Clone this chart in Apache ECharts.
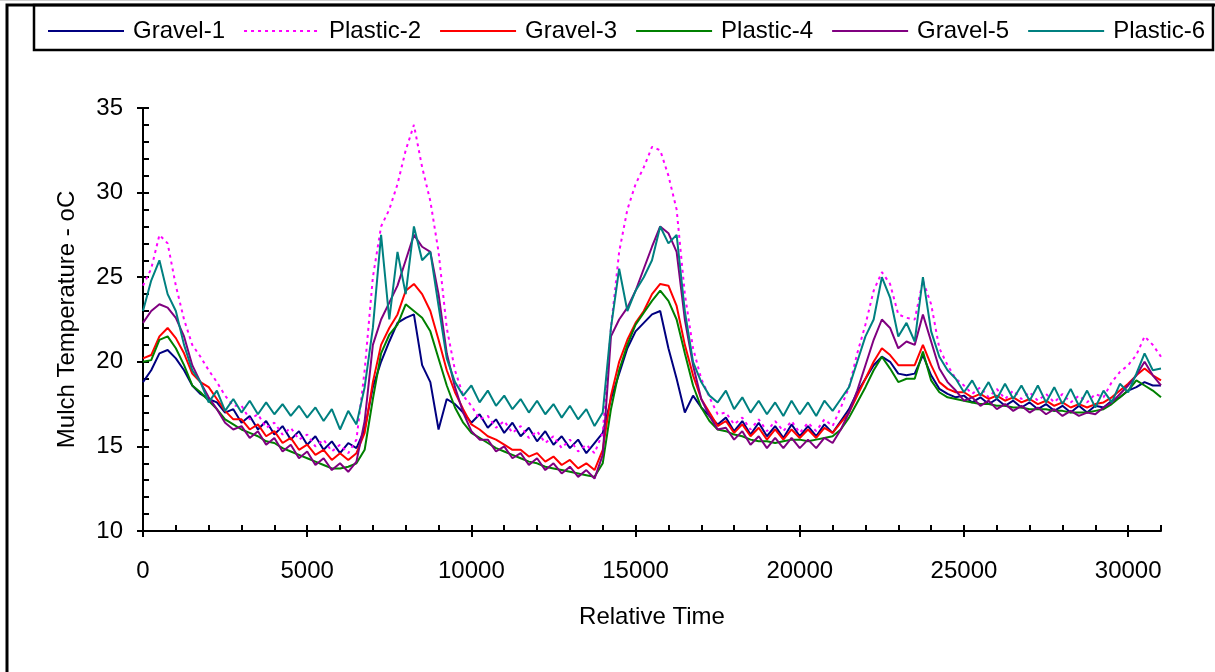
<!DOCTYPE html>
<html>
<head>
<meta charset="utf-8">
<script src="https://cdn.jsdelivr.net/npm/echarts@6/dist/echarts.min.js"></script>
<style>
html,body{margin:0;padding:0;background:#fff;}
#chart{width:1215px;height:672px;}
</style>
</head>
<body>
<div id="chart"></div>
<script>
// Sample spacing along "Relative Time" (one value every 250 units, 0..31000)
const timeStep = 250;
const seriesNames = ['Gravel-1','Plastic-2','Gravel-3','Plastic-4','Gravel-5','Plastic-6'];
const xTicks = {min: 0, max: 31000, interval: 5000};
const yTicks = {min: 10, max: 35, interval: 5};

const gravel1 = [18.8,19.5,20.5,20.7,20.2,19.5,18.6,18.1,17.8,17.6,17.0,17.2,16.4,16.8,16.0,16.5,15.7,16.2,15.4,15.9,15.1,15.6,14.8,15.3,14.6,15.2,14.9,16.0,18.5,20.0,21.2,22.3,22.6,22.8,19.8,18.8,16.0,17.8,17.5,17.0,16.4,16.9,16.1,16.6,15.8,16.4,15.6,16.1,15.3,15.9,15.1,15.6,14.9,15.4,14.6,15.2,15.8,17.8,19.3,20.8,21.8,22.3,22.8,23.0,20.8,19.0,17.0,18.0,17.3,16.8,16.3,16.7,15.9,16.5,15.7,16.4,15.6,16.2,15.5,16.3,15.6,16.2,15.6,16.3,15.8,16.5,17.2,18.2,19.0,19.8,20.3,20.0,19.3,19.2,19.3,20.4,19.2,18.4,18.1,17.9,18.0,17.6,17.9,17.5,17.8,17.4,17.7,17.3,17.6,17.2,17.5,17.1,17.4,17.0,17.4,17.0,17.4,17.3,17.7,17.9,18.3,18.5,18.8,18.6,18.6];
const plastic2 = [24.5,25.5,27.5,27.0,24.5,22.5,21.0,20.3,19.5,18.8,18.0,17.4,17.4,16.6,16.9,16.1,16.4,15.7,16.1,15.4,15.7,15.0,15.4,14.7,15.1,14.6,15.4,19.5,25.0,28.0,29.0,30.5,32.5,34.0,31.5,29.5,26.5,22.0,19.5,18.0,17.4,16.6,16.8,16.1,16.5,15.8,16.2,15.5,15.9,15.2,15.6,14.9,15.4,14.7,15.1,14.6,15.8,22.0,26.5,29.0,30.5,31.5,32.7,32.5,31.0,29.0,24.0,20.8,19.0,17.9,16.9,17.0,16.3,16.7,16.0,16.6,15.9,16.5,15.9,16.5,15.8,16.4,15.9,16.6,16.2,17.3,18.5,20.5,22.2,24.2,25.3,24.6,22.8,22.6,22.5,24.8,23.4,20.8,19.8,19.0,18.6,18.1,18.5,17.9,18.4,17.8,18.3,17.8,18.2,17.7,18.1,17.6,18.1,17.6,18.0,17.6,18.1,17.9,18.8,19.4,19.8,20.4,21.5,21.0,20.3];
const gravel3 = [20.2,20.4,21.5,22.0,21.4,20.5,19.3,18.8,18.5,17.8,17.1,16.6,16.6,16.0,16.3,15.6,15.9,15.2,15.5,14.8,15.1,14.5,14.8,14.2,14.6,14.2,14.6,15.8,18.8,21.0,22.0,22.8,24.2,24.6,24.0,23.0,21.3,19.5,18.2,17.2,16.3,16.0,15.6,15.4,15.1,14.8,14.8,14.4,14.6,14.1,14.4,13.9,14.2,13.7,14.0,13.6,14.8,18.0,20.0,21.3,22.3,23.0,24.0,24.6,24.5,23.3,21.0,19.2,17.8,17.0,16.2,16.5,15.8,16.3,15.6,16.1,15.4,16.0,15.4,16.0,15.5,16.0,15.5,16.1,15.8,16.4,17.0,18.0,19.0,20.0,20.8,20.4,19.8,19.8,19.8,21.0,19.8,18.8,18.4,18.2,18.2,17.9,18.1,17.8,18.0,17.7,17.9,17.6,17.8,17.5,17.7,17.4,17.6,17.3,17.5,17.3,17.5,17.6,17.9,18.3,18.7,19.2,19.6,19.2,18.9];
const plastic4 = [20.0,20.1,21.3,21.5,20.8,19.8,18.6,18.2,17.7,17.2,16.6,16.3,16.0,15.8,15.6,15.3,15.2,14.9,14.7,14.5,14.3,14.1,13.9,13.7,13.7,13.8,14.0,14.8,17.8,20.5,21.6,22.2,23.4,23.0,22.6,21.8,20.2,18.6,17.3,16.4,15.8,15.5,15.2,14.9,14.7,14.5,14.3,14.1,14.0,13.8,13.7,13.6,13.5,13.4,13.3,13.2,14.0,17.2,19.5,21.0,22.2,22.9,23.6,24.2,23.6,22.5,20.5,18.6,17.3,16.5,16.0,15.9,15.7,15.6,15.4,15.3,15.3,15.2,15.3,15.4,15.4,15.3,15.4,15.5,15.6,16.0,16.7,17.6,18.5,19.5,20.3,19.6,18.8,19.0,19.0,20.6,18.9,18.2,17.9,17.8,17.7,17.6,17.5,17.5,17.4,17.4,17.3,17.3,17.2,17.2,17.2,17.1,17.1,17.0,17.0,17.0,17.1,17.2,17.5,17.9,18.3,18.9,18.6,18.3,17.9];
const gravel5 = [22.3,23.0,23.4,23.2,22.6,21.5,19.8,18.8,17.9,17.2,16.4,16.0,16.2,15.5,15.9,15.1,15.5,14.7,15.1,14.3,14.7,13.9,14.3,13.6,14.0,13.5,14.1,16.5,21.0,22.5,23.5,24.5,26.0,27.5,26.8,26.5,24.0,20.5,18.5,17.0,15.9,15.4,15.4,14.7,15.0,14.3,14.6,13.9,14.3,13.6,14.0,13.4,13.8,13.2,13.6,13.1,14.5,21.5,22.5,23.2,24.2,25.5,26.8,28.0,27.6,26.5,22.5,19.8,17.8,16.8,16.0,16.1,15.4,15.9,15.1,15.6,14.9,15.5,14.9,15.5,14.9,15.4,14.9,15.5,15.2,16.0,17.0,18.3,19.8,21.3,22.5,22.0,20.8,21.2,21.0,22.8,21.2,19.6,18.8,18.3,17.7,17.9,17.4,17.7,17.2,17.5,17.1,17.4,17.0,17.3,16.9,17.2,16.8,17.1,16.8,17.0,16.9,17.3,17.6,18.1,18.6,19.2,20.0,19.2,18.6];
const plastic6 = [23.0,24.8,26.0,24.0,23.0,21.0,19.5,18.8,17.6,18.3,17.1,17.8,17.0,17.7,16.9,17.6,16.9,17.5,16.8,17.4,16.7,17.3,16.5,17.2,16.0,17.1,16.3,18.5,22.0,27.5,22.5,26.5,24.0,28.0,26.0,26.5,23.3,20.2,18.8,18.0,18.6,17.6,18.3,17.4,18.0,17.2,17.8,17.0,17.7,16.9,17.5,16.7,17.4,16.6,17.2,16.2,17.0,22.0,25.5,23.0,24.2,25.0,26.0,28.0,27.0,27.5,23.0,20.0,18.8,18.0,17.6,18.3,17.2,17.9,17.0,17.7,16.9,17.6,16.8,17.7,16.9,17.6,16.8,17.7,17.1,17.8,18.5,20.0,21.5,22.5,25.0,23.8,21.5,22.3,21.2,25.0,21.8,20.3,19.5,19.0,18.2,18.9,18.0,18.8,17.8,18.7,17.8,18.6,17.7,18.6,17.6,18.5,17.5,18.4,17.4,18.3,17.3,18.3,17.6,18.7,18.2,19.3,20.5,19.5,19.6];

const seriesValues = [gravel1, plastic2, gravel3, plastic4, gravel5, plastic6];
const seriesColors = ['#000080','#FF00FF','#FF0000','#008000','#800080','#008080'];

const chart = echarts.init(document.getElementById('chart'), null, {renderer: 'canvas'});
const FONT = 'Liberation Sans, Arial, sans-serif';

const series = seriesNames.map((name, k) => ({
  name: name,
  type: 'line',
  xAxisIndex: 0,
  yAxisIndex: 0,
  showSymbol: false,
  symbol: 'none',
  animation: false,
  data: seriesValues[k].map((v, i) => [i * timeStep, v]),
  lineStyle: {color: seriesColors[k], width: 2, type: k === 1 ? [3, 4] : 'solid'},
  itemStyle: {color: seriesColors[k]}
}));

const baseX = {type: 'value', min: xTicks.min, max: xTicks.max, interval: xTicks.interval, position: 'bottom', splitLine: {show: false}};
const baseY = {type: 'value', min: yTicks.min, max: yTicks.max, interval: yTicks.interval, position: 'left', splitLine: {show: false}};

chart.setOption({
  backgroundColor: '#fff',
  animation: false,
  grid: {left: 143, top: 108, right: 54, bottom: 141, containLabel: false},
  legend: {
    data: seriesNames,
    left: 42, top: 14,
    itemWidth: 76, itemHeight: 12, itemGap: 18,
    itemStyle: {opacity: 0},
    textStyle: {fontFamily: FONT, fontSize: 24, color: '#000', padding: [0, 0, 0, 4]}
  },
  xAxis: [
    Object.assign({}, baseX, {
      name: 'Relative Time', nameLocation: 'middle', nameGap: 74,
      nameTextStyle: {fontFamily: FONT, fontSize: 24, color: '#000'},
      axisLine: {show: true, onZero: false, lineStyle: {color: '#000', width: 2}},
      axisTick: {show: true, inside: false, length: 6, lineStyle: {color: '#000', width: 2}},
      minorTick: {show: false},
      axisLabel: {fontFamily: FONT, fontSize: 24, color: '#000', margin: 28, showMaxLabel: false,
        formatter: v => String(v)}
    }),
    Object.assign({}, baseX, {
      axisLine: {show: false},
      axisTick: {show: true, inside: true, length: 6, lineStyle: {color: '#000', width: 2}},
      minorTick: {show: true, splitNumber: 5, length: 6, lineStyle: {color: '#000', width: 2}},
      axisLabel: {show: false}
    })
  ],
  yAxis: [
    Object.assign({}, baseY, {
      name: 'Mulch Temperature - oC', nameLocation: 'middle', nameGap: 64,
      nameTextStyle: {fontFamily: FONT, fontSize: 24, color: '#000'},
      axisLine: {show: true, onZero: false, lineStyle: {color: '#000', width: 2}},
      axisTick: {show: true, inside: false, length: 6, lineStyle: {color: '#000', width: 2}},
      minorTick: {show: false},
      axisLabel: {fontFamily: FONT, fontSize: 24, color: '#000', margin: 20}
    }),
    Object.assign({}, baseY, {
      axisLine: {show: false},
      axisTick: {show: true, inside: true, length: 6, lineStyle: {color: '#000', width: 2}},
      minorTick: {show: true, splitNumber: 5, length: 6, lineStyle: {color: '#000', width: 2}},
      axisLabel: {show: false}
    })
  ],
  graphic: [
    {type: 'rect', silent: true, z: 100, shape: {x: 0, y: 0, width: 1215, height: 1}, style: {fill: '#d0d0d0'}},
    {type: 'rect', silent: true, z: 100, shape: {x: 7, y: 5, width: 1400, height: 900}, style: {fill: null, stroke: '#000', lineWidth: 3}},
    {type: 'rect', silent: true, z: 100, shape: {x: 34, y: 5, width: 1179, height: 45}, style: {fill: null, stroke: '#000', lineWidth: 2.5}}
  ],
  series: series
});
</script>
</body>
</html>
